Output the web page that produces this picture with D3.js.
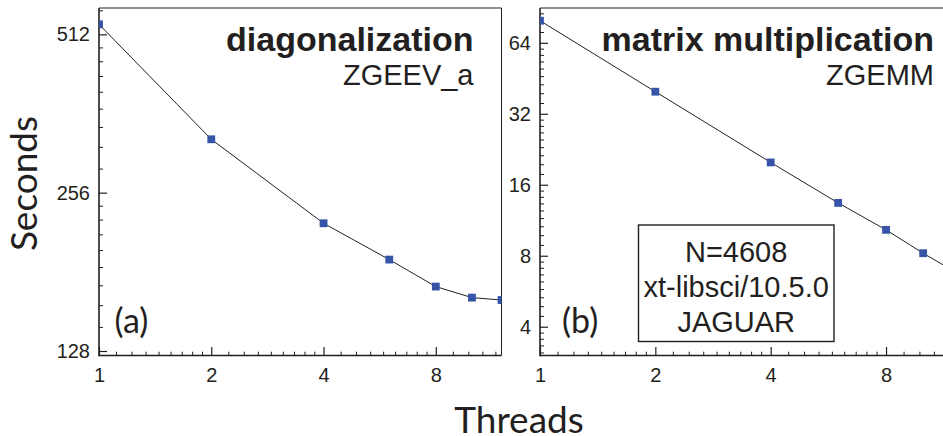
<!DOCTYPE html>
<html>
<head>
<meta charset="utf-8">
<script src="https://cdn.jsdelivr.net/npm/d3@7"></script>
<style>
  html, body { margin: 0; padding: 0; background: #fff; overflow: hidden; }
  svg { display: block; }
  .tick text { font-family: "Liberation Sans", Arial, sans-serif; font-size: 20px; fill: #231f20; }
</style>
</head>
<body>
<svg id="chart" width="943" height="436"></svg>
<script>
// ---- data ----
const threads = [1, 2, 4, 6, 8, 10, 12];
const diagSeconds = [535, 323.4, 223.9, 191, 169.7, 161.7, 160];   // ZGEEV_a
const mmSeconds   = [79.4, 39.7, 19.9, 13.4, 10.3, 8.2, 6.9];      // ZGEMM
const xTickLabels = [1, 2, 4, 8];
const yTicksA = [128, 256, 512];
const yTicksB = [4, 8, 16, 32, 64];
const infoLines = ["N=4608", "xt-libsci/10.5.0", "JAGUAR"];

// ---- layout ----
const svg = d3.select("#chart");
const plotTop = 8, plotBottom = 355.5;
const ink = "#231f20";
const markColor = "#3554a8";

function minorTicks(bases, domain) {
  const out = [];
  bases.forEach(b => { for (let k = 1; k <= 8; k++) { const v = b + k * b / 9; if (v > domain[0] && v < domain[1]) out.push(v); } });
  return out;
}

function panel(id, x0, x1, yDomain, yMajor, values) {
  const x = d3.scaleLog().domain([1, 12]).range([x0, x1]);
  const y = d3.scaleLog().domain(yDomain).range([plotBottom, plotTop]);
  const g = svg.append("g");

  const clipId = "clip" + id;
  svg.append("clipPath").attr("id", clipId)
    .append("rect").attr("x", x0).attr("y", plotTop).attr("width", x1 - x0).attr("height", plotBottom - plotTop);

  const xMinor = minorTicks([1, 2, 4, 8], [1, 12]);
  const yMinor = minorTicks([2, 4, 8, 16, 32, 64, 128, 256, 512], yDomain);

  g.append("g").attr("transform", `translate(0,${plotBottom})`)
    .call(d3.axisBottom(x).tickValues(xMinor).tickSize(-3.8).tickFormat(""))
    .call(a => a.select(".domain").remove())
    .call(a => a.selectAll("line").attr("stroke", ink).attr("stroke-width", 1));
  g.append("g").attr("transform", `translate(${x0},0)`)
    .call(d3.axisLeft(y).tickValues(yMinor).tickSize(-4).tickFormat(""))
    .call(a => a.select(".domain").remove())
    .call(a => a.selectAll("line").attr("stroke", ink).attr("stroke-width", 1));

  g.append("g").attr("transform", `translate(0,${plotBottom})`)
    .call(d3.axisBottom(x).tickValues(xTickLabels).tickSize(-8.5).tickPadding(12.5).tickFormat(d3.format("d")))
    .call(a => a.select(".domain").remove())
    .call(a => a.selectAll("line").attr("stroke", ink).attr("stroke-width", 1.2));
  g.append("g").attr("transform", `translate(${x0},0)`)
    .call(d3.axisLeft(y).tickValues(yMajor).tickSize(-8).tickPadding(9).tickFormat(d3.format("d")))
    .call(a => a.select(".domain").remove())
    .call(a => a.selectAll("line").attr("stroke", ink).attr("stroke-width", 1.2));

  g.append("line").attr("x1", x0).attr("x2", x1).attr("y1", plotTop).attr("y2", plotTop).attr("stroke", ink).attr("stroke-width", 1);
  g.append("line").attr("x1", x1).attr("x2", x1).attr("y1", plotTop).attr("y2", plotBottom).attr("stroke", ink).attr("stroke-width", 1);
  g.append("line").attr("x1", x0).attr("x2", x0).attr("y1", plotTop).attr("y2", plotBottom + 0.8).attr("stroke", ink).attr("stroke-width", 1.6);
  g.append("line").attr("x1", x0).attr("x2", x1).attr("y1", plotBottom).attr("y2", plotBottom).attr("stroke", ink).attr("stroke-width", 1.6);

  const pts = threads.map((t, i) => [t, values[i]]);
  const data = g.append("g").attr("clip-path", `url(#${clipId})`);
  data.append("path").datum(pts)
    .attr("fill", "none").attr("stroke", "#222").attr("stroke-width", 1)
    .attr("d", d3.line().x(d => x(d[0])).y(d => y(d[1])));
  data.selectAll("rect.m").data(pts).enter().append("rect")
    .attr("class", "m")
    .attr("x", d => x(d[0]) - 3.9).attr("y", d => y(d[1]) - 3.9)
    .attr("width", 7.8).attr("height", 7.8)
    .attr("fill", markColor);

  return { x, y, g };
}

panel("a", 99, 501.5, [125.5, 574.6], yTicksA, diagSeconds);
panel("b", 540, 953.5, [3.02, 89.9], yTicksB, mmSeconds);

function titles(rightX, title, subtitle) {
  svg.append("text").attr("x", rightX).attr("y", 50.5).attr("text-anchor", "end")
    .style("font-family", "'Liberation Sans', Arial, sans-serif").style("font-weight", "bold")
    .style("font-size", "34px").attr("fill", ink).text(title);
  svg.append("text").attr("x", rightX).attr("y", 84.5).attr("text-anchor", "end")
    .style("font-family", "'Liberation Sans', Arial, sans-serif")
    .style("font-size", "29px").attr("fill", ink).text(subtitle);
}
titles(473.5, "diagonalization", "ZGEEV_a");
titles(934, "matrix multiplication", "ZGEMM");

[["(a)", 114.5], ["(b)", 562]].forEach(([t, xx]) => {
  svg.append("text").attr("x", xx).attr("y", 333).style("font-family", "Lato, sans-serif")
    .style("font-size", "34px").attr("fill", ink).text(t);
});

svg.append("rect").attr("x", 638.5).attr("y", 225).attr("width", 195.5).attr("height", 116.5)
  .attr("fill", "#fff").attr("stroke", ink).attr("stroke-width", 1.4);
const baselines = [261.7, 296.5, 331.7];
infoLines.forEach((t, i) => {
  svg.append("text").attr("x", 736.2).attr("y", baselines[i]).attr("text-anchor", "middle")
    .style("font-family", "'Liberation Sans', Arial, sans-serif").style("font-size", "29px")
    .attr("fill", ink).text(t);
});

svg.append("text").attr("transform", "translate(36.5,183.5) rotate(-90)").attr("text-anchor", "middle")
  .style("font-family", "Lato, sans-serif").style("font-size", "37px").attr("fill", ink).text("Seconds");
svg.append("text").attr("x", 519).attr("y", 433).attr("text-anchor", "middle")
  .style("font-family", "Lato, sans-serif").style("font-size", "37px").attr("fill", ink).text("Threads");
</script>
</body>
</html>
